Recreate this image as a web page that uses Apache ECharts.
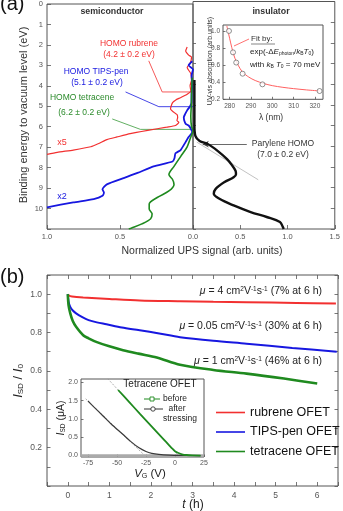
<!DOCTYPE html>
<html><head><meta charset="utf-8">
<script src="https://cdn.jsdelivr.net/npm/echarts@6/dist/echarts.min.js"></script>
<style>html,body{margin:0;padding:0;background:#fff}#c{width:343px;height:511px}</style>
</head><body><div id="c"></div>
<script>
// ---------- Panel (a): UPS spectra (binding energy in eV, normalized signal) ----------
const rubreneE = [2.1, 2.3, 2.5, 2.6, 2.9, 3.1, 3.4, 3.7, 4.0, 4.25, 4.41, 4.58, 4.7, 4.82, 5.0, 5.13, 5.3, 5.4, 5.55, 5.7, 5.78, 5.94, 6.02, 6.18, 6.34, 6.5, 6.63, 6.82, 6.98, 7.14, 7.25, 7.35];
const rubreneS = [0.04, 0.05, 0.03, 0.01, 0.02, 0.04, 0.015, 0.01, 0.02, 0.015, 0.04, 0.086, 0.12, 0.14, 0.15, 0.154, 0.13, 0.11, 0.105, 0.11, 0.097, 0.12, 0.18, 0.31, 0.43, 0.52, 0.59, 0.645, 0.70, 0.82, 0.93, 1.0];
const tipsE = [2.8, 3.0, 3.2, 3.5, 4.0, 4.4, 4.8, 5.0, 5.2, 5.4, 5.54, 5.7, 5.86, 5.94, 6.1, 6.26, 6.5, 6.74, 7.14, 7.3, 7.54, 7.7, 7.94, 8.26, 8.5, 8.82, 9.06, 9.22, 9.38, 9.54, 9.7, 9.94];
const tipsS = [0.005, 0.03, 0.0, 0.01, 0.005, 0.01, 0.01, 0.02, 0.04, 0.055, 0.063, 0.06, 0.05, 0.03, 0.015, 0.005, 0.03, 0.05, 0.085, 0.12, 0.127, 0.14, 0.27, 0.38, 0.47, 0.59, 0.62, 0.61, 0.62, 0.68, 0.82, 1.0];
const tetE = [3.6, 4.0, 4.5, 5.0, 5.5, 6.0, 6.18, 6.5, 6.98, 7.46, 7.94, 8.34, 8.58, 8.82, 9.14, 9.46, 9.78, 10.02, 10.26, 10.5, 10.75, 10.95, 11.0];
const tetS = [0.005, 0.008, 0.01, 0.012, 0.015, 0.01, 0.0, 0.015, 0.04, 0.085, 0.13, 0.165, 0.14, 0.13, 0.165, 0.245, 0.30, 0.30, 0.28, 0.29, 0.35, 0.42, 0.44];
const paryE = [3.8, 4.5, 5.0, 5.5, 6.0, 6.5, 6.74, 6.9, 7.22, 7.62, 7.9, 8.18, 8.35, 8.5, 8.74, 9.06, 9.3, 9.54, 9.86, 10.18, 10.42, 10.66, 10.9, 11.0];
const paryS = [0.015, 0.015, 0.015, 0.015, 0.015, 0.025, 0.07, 0.16, 0.26, 0.36, 0.41, 0.45, 0.455, 0.43, 0.33, 0.24, 0.22, 0.28, 0.43, 0.61, 0.78, 0.92, 0.95, 0.96];
// inset (a): UV-vis absorption
const uvLambda = [279.7, 281.6, 283.1, 286.1, 295.4, 322.2];
const uvAbs = [1.0, 0.75, 0.63, 0.50, 0.375, 0.297];
const fitLambda = [278.7, 279.5, 280.5, 281.5, 282.5, 284, 286, 289, 292, 296, 300, 305, 310, 316, 322.2];
const fitAbs = [1.06, 0.97, 0.86, 0.76, 0.68, 0.6, 0.52, 0.46, 0.42, 0.385, 0.36, 0.34, 0.325, 0.31, 0.298];
// ---------- Panel (b): I_SD/I_0 vs time ----------
const rubT = [0, 0.03, 0.1, 0.37, 1.0, 1.73, 2.7, 3.5, 4.3, 5.5, 6.45];
const rubV = [1.0, 0.992, 0.988, 0.983, 0.975, 0.967, 0.963, 0.96, 0.958, 0.954, 0.951];
const tipsT = [0, 0.02, 0.06, 0.12, 0.2, 0.35, 0.5, 0.7, 0.93, 1.3, 1.73, 2.2, 2.7, 3.5, 4.3, 5.4, 6.47];
const tipsV = [1.0, 0.96, 0.934, 0.915, 0.9, 0.88, 0.865, 0.853, 0.843, 0.826, 0.812, 0.795, 0.776, 0.757, 0.742, 0.72, 0.70];
const tetT = [0, 0.02, 0.06, 0.12, 0.2, 0.37, 0.5, 0.7, 1.0, 1.33, 1.7, 2.14, 2.7, 3.5, 4.3, 5.2, 6.0];
const tetV = [1.0, 0.94, 0.90, 0.86, 0.83, 0.786, 0.77, 0.75, 0.728, 0.708, 0.69, 0.67, 0.632, 0.605, 0.586, 0.56, 0.534];
// inset (b): transfer curves
const vgBefore = [-49, -40, -30, -20, -10, -5, -2, 0, 3, 6, 10, 15, 22];
const isdBefore = [1.79, 1.48, 1.13, 0.79, 0.45, 0.28, 0.18, 0.12, 0.07, 0.035, 0.015, 0.005, 0.0];
const vgAfter = [-75, -70, -62, -55, -45, -38, -31, -25, -20, -14, -5, 5, 22];
const isdAfter = [1.49, 1.33, 1.08, 0.86, 0.58, 0.38, 0.21, 0.11, 0.06, 0.03, 0.01, 0.003, 0.0];
const tanBefore = [[-58, 2.1], [3, 0]];
const tanAfter = [[-77, 1.55], [-26, 0]];
// tick label lists
const bTickX = [0, 1, 2, 3, 4, 5, 6];
const bTickY = [0.2, 0.4, 0.6, 0.8, 1.0];
const insetATicksX = [280, 290, 300, 310, 320];
const insetATicksY = [0.2, 0.4, 0.6, 0.8, 1.0];
const insetBTicksX = [-75, -50, -25, 0, 25];
const insetBTicksY = [0, 0.5, 1.0, 1.5, 2.0];

const zipXY = (xs, ys) => xs.map((x, i) => [x, ys[i]]);
const FF = "'Liberation Sans', Arial, sans-serif";
const RED = '#f23030', BLUE = '#1717e0', GREEN = '#1f8a1f';

// annotation leader lines in panel (a) data coordinates (signal, energy)
const leadRed = [[0.303, 2.78], [0.211, 4.30], [0.0, 4.30]];
const leadBlue = [[0.462, 4.30], [0.234, 5.02], [0.0, 5.02]];
const leadGreen = [[0.553, 5.62], [0.36, 6.13], [0.0, 6.13]];

const lbl = (size, extra) => Object.assign({fontSize: size, color: '#555', fontFamily: FF}, extra || {});
const tick = (len, extra) => Object.assign({inside: true, length: len, lineStyle: {color: '#555', width: 0.8}}, extra || {});
const noLine = {show: false, onZero: false};
const noSplit = {show: false};

function T(x, y, text, o) {
  o = o || {};
  return {type: 'text', x: x, y: y, rotation: o.rot || 0, z: 100, silent: true,
    style: {text: text, fill: o.fill || '#222', fontSize: o.size || 9, fontFamily: FF,
      fontWeight: o.bold ? 'bold' : 'normal', fontStyle: o.italic ? 'italic' : 'normal',
      align: o.align || 'center', verticalAlign: 'middle', rich: o.rich}};
}
const supRich = (base) => ({i: {fontStyle: 'italic', fontSize: base, fill: '#222'}, s: {fontSize: base * 0.62, verticalAlign: 'top', fill: '#222'}, n: {fontSize: base, fill: '#222'}});
const subRich = (base) => ({i: {fontStyle: 'italic', fontSize: base, fill: '#222'}, b: {fontSize: base * 0.62, verticalAlign: 'bottom', fill: '#222'}, n: {fontSize: base, fill: '#222'}});

const chart = echarts.init(document.getElementById('c'), null, {renderer: 'canvas'});
const gridStyle = {show: true, borderColor: '#555', borderWidth: 1, backgroundColor: 'transparent', containLabel: false};
const lineS = (name, data, color, w, xi, yi, extra) => Object.assign({
  name: name, type: 'line', data: data, xAxisIndex: xi, yAxisIndex: yi, symbol: 'none', silent: true,
  lineStyle: {color: color, width: w}, itemStyle: {color: color}, animation: false, z: 5
}, extra || {});
const isTick = (list, v) => list.some(t => Math.abs(t - v) < 1e-6);

chart.setOption({
  animation: false,
  textStyle: {fontFamily: FF},
  grid: [
    Object.assign({left: 47, top: 1.5, width: 146, height: 227.5}, gridStyle),
    Object.assign({left: 193, top: 1.5, width: 145, height: 227.5}, gridStyle),
    Object.assign({left: 223, top: 25, width: 100, height: 74.3}, gridStyle),
    Object.assign({left: 47, top: 275, width: 291, height: 211}, gridStyle),
    Object.assign({left: 81, top: 379, width: 123, height: 78}, gridStyle, {backgroundColor: '#fff'})
  ],
  xAxis: [
    {gridIndex: 0, type: 'value', min: 0, max: 1, inverse: true, interval: 0.5, axisLine: noLine, splitLine: noSplit,
      axisTick: tick(4), axisLabel: lbl(7.5, {margin: 4, formatter: v => v === 0 ? '' : v.toFixed(1)})},
    {gridIndex: 1, type: 'value', min: 0, max: 1.5, interval: 0.5, axisLine: noLine, splitLine: noSplit,
      axisTick: tick(4), axisLabel: lbl(7.5, {margin: 4, formatter: v => v.toFixed(1)})},
    {gridIndex: 2, type: 'value', min: 276.9, max: 323.8, axisLine: noLine, splitLine: noSplit,
      axisTick: tick(2.5, {customValues: insetATicksX}), axisLabel: lbl(6.5, {margin: 3, customValues: insetATicksX})},
    {gridIndex: 3, type: 'value', min: -0.5, max: 6.5, interval: 0.5, axisLine: noLine, splitLine: noSplit,
      axisTick: tick(4), axisLabel: lbl(8.5, {margin: 5, formatter: v => isTick(bTickX, v) ? String(v) : ''})},
    {gridIndex: 3, type: 'value', position: 'top', min: -0.5, max: 6.5, interval: 0.5, axisLine: noLine, splitLine: noSplit,
      axisTick: tick(4), axisLabel: {show: false}},
    {gridIndex: 4, type: 'value', min: -81, max: 25, axisLine: noLine, splitLine: noSplit,
      axisTick: tick(2.5, {customValues: insetBTicksX}), axisLabel: lbl(7, {margin: 3, customValues: insetBTicksX})}
  ],
  yAxis: [
    {gridIndex: 0, type: 'value', min: 0, max: 11, interval: 1, inverse: true, axisLine: noLine, splitLine: noSplit,
      axisTick: tick(4), axisLabel: lbl(7.5, {margin: 4, formatter: v => v <= 10 ? String(v) : ''})},
    {gridIndex: 1, type: 'value', min: 0, max: 11, interval: 1, inverse: true, position: 'left', axisLine: noLine, splitLine: noSplit,
      axisTick: tick(3), axisLabel: {show: false}},
    {gridIndex: 1, type: 'value', min: 0, max: 11, interval: 1, inverse: true, position: 'right', axisLine: noLine, splitLine: noSplit,
      axisTick: tick(4), axisLabel: {show: false}},
    {gridIndex: 2, type: 'value', min: 0.2, max: 1.07, axisLine: noLine, splitLine: noSplit,
      axisTick: tick(2.5, {customValues: insetATicksY}), axisLabel: lbl(6.5, {margin: 3, customValues: insetATicksY, formatter: v => v.toFixed(1)})},
    {gridIndex: 3, type: 'value', min: 0, max: 1.1, interval: 0.1, axisLine: noLine, splitLine: noSplit,
      axisTick: tick(3.5), axisLabel: lbl(8.5, {margin: 5, formatter: v => isTick(bTickY, v) ? v.toFixed(1) : ''})},
    {gridIndex: 3, type: 'value', position: 'right', min: 0, max: 1.1, interval: 0.1, axisLine: noLine, splitLine: noSplit,
      axisTick: tick(3.5), axisLabel: {show: false}},
    {gridIndex: 4, type: 'value', min: -0.04, max: 2.09, axisLine: noLine, splitLine: noSplit,
      axisTick: tick(2.5, {customValues: insetBTicksY}), axisLabel: lbl(7, {margin: 3, customValues: insetBTicksY, formatter: v => v.toFixed(1)})}
  ],
  legend: {
    orient: 'vertical', left: 211, top: 401, itemWidth: 29, itemHeight: 1.6, itemGap: 6.5, icon: 'rect',
    textStyle: {fontSize: 12.5, color: '#111', fontFamily: FF},
    data: ['rubrene OFET', 'TIPS-pen OFET', 'tetracene OFET'], selectedMode: false
  },
  series: [
    // panel (a) left: semiconductors
    lineS('lr', leadRed, RED, 0.8, 0, 0, {z: 3}),
    lineS('lb', leadBlue, BLUE, 0.8, 0, 0, {z: 3}),
    lineS('lg', leadGreen, '#3a9a3a', 0.8, 0, 0, {z: 3}),
    lineS('rubrene UPS', zipXY(rubreneS, rubreneE), RED, 1.2, 0, 0, {smooth: 0.2}),
    lineS('TIPS UPS', zipXY(tipsS, tipsE), BLUE, 1.8, 0, 0, {smooth: 0.2}),
    lineS('tetracene UPS', zipXY(tetS, tetE), GREEN, 1.6, 0, 0, {smooth: 0.3}),
    // panel (a) right: parylene
    lineS('tangent', [[0.04, 6.8], [0.69, 8.62]], '#bbbbbb', 0.9, 1, 1, {z: 3}),
    lineS('parylene UPS', zipXY(paryS, paryE), '#111', 2.4, 1, 1, {smooth: 0.35,
      markLine: {silent: true, symbol: ['arrow', 'none'], symbolSize: [5, 6], label: {show: false},
        lineStyle: {color: '#444', width: 0.8, type: 'solid'},
        data: [[{coord: [0.103, 6.9]}, {coord: [0.569, 6.9]}]]}}),
    // inset (a)
    lineS('fit', zipXY(fitLambda, fitAbs), '#ff6060', 1, 2, 3, {smooth: 0.3}),
    {type: 'scatter', xAxisIndex: 2, yAxisIndex: 3, data: zipXY(uvLambda, uvAbs), symbol: 'circle', symbolSize: 5,
      itemStyle: {color: '#fff', borderColor: '#666', borderWidth: 0.9}, silent: true, z: 6},
    // panel (b)
    lineS('rubrene OFET', zipXY(rubT, rubV), RED, 2, 3, 4, {smooth: 0.3}),
    lineS('TIPS-pen OFET', zipXY(tipsT, tipsV), BLUE, 2, 3, 4, {smooth: 0.3}),
    lineS('tetracene OFET', zipXY(tetT, tetV), GREEN, 2.6, 3, 4, {smooth: 0.3}),
    // inset (b)
    lineS('tb', tanBefore, '#999', 0.8, 5, 6, {lineStyle: {color: '#999', width: 0.8, type: [2, 1.5]}, z: 3}),
    lineS('ta', tanAfter, '#999', 0.8, 5, 6, {lineStyle: {color: '#999', width: 0.8, type: [2, 1.5]}, z: 3}),
    lineS('after', zipXY(vgAfter, isdAfter), '#3a3a3a', 1.2, 5, 6, {smooth: 0.3,
      markLine: {silent: true, symbol: 'none', label: {show: false}, lineStyle: {color: '#aaa', width: 2.5, type: 'solid'}, data: [{yAxis: 0}]}}),
    lineS('before', zipXY(vgBefore, isdBefore), '#1f8a1f', 1.8, 5, 6, {smooth: 0.3})
  ],
  graphic: [
    T(0, 4, '(a)', {size: 20, align: 'left', fill: '#111'}),
    T(0, 277, '(b)', {size: 20, align: 'left', fill: '#111'}),
    // panel a titles
    T(24, 115, 'Binding energy to vacuum level (eV)', {size: 11, rot: Math.PI / 2, fill: '#333'}),
    T(202, 251, 'Normalized UPS signal (arb. units)', {size: 10.5, fill: '#333'}),
    T(112, 12, 'semiconductor', {size: 8.8, bold: true, fill: '#333'}),
    T(271, 12, 'insulator', {size: 8.8, bold: true, fill: '#333'}),
    T(129, 44, 'HOMO rubrene', {size: 8.5, fill: RED}),
    T(129, 55, '(4.2 ± 0.2 eV)', {size: 8.5, fill: RED}),
    T(96, 72, 'HOMO TIPS-pen', {size: 8.5, fill: BLUE}),
    T(97, 83, '(5.1 ± 0.2 eV)', {size: 8.5, fill: BLUE}),
    T(82, 98, 'HOMO tetracene', {size: 8.5, fill: '#2a8a2a'}),
    T(84, 113, '(6.2 ± 0.2 eV)', {size: 8.5, fill: '#2a8a2a'}),
    T(62, 143, 'x5', {size: 9, fill: RED}),
    T(62, 197, 'x2', {size: 9, fill: BLUE}),
    T(283, 144, 'Parylene HOMO', {size: 8.5, fill: '#333'}),
    T(283, 155, '(7.0 ± 0.2 eV)', {size: 8.5, fill: '#333'}),
    // inset a
    T(210, 61, 'UV-vis absorption (arb.units)', {size: 7, rot: Math.PI / 2, fill: '#333'}),
    T(271, 118, 'λ (nm)', {size: 8.5, fill: '#333'}),
    T(251, 39, 'Fit by:', {size: 8, align: 'left', fill: '#333'}),
    {type: 'line', z: 100, silent: true, shape: {x1: 251, y1: 44, x2: 275, y2: 44}, style: {stroke: '#333', lineWidth: 0.6}},
    {type: 'line', z: 100, silent: true, shape: {x1: 234, y1: 46, x2: 249, y2: 39}, style: {stroke: '#ff6060', lineWidth: 0.9}},
    T(250, 52, '{n|exp(-Δ}{i|E}{b|photon}{n|/}{i|k}{b|B}{i|T}{b|0}{n|)}', {size: 8, align: 'left', rich: subRich(8)}),
    T(250, 65, '{n|with }{i|k}{b|B}{i| T}{b|0}{n| = 70 meV}', {size: 8, align: 'left', rich: subRich(8)}),
    // panel b titles
    T(18, 381, '{i|I}{b|SD}{n| / }{i|I}{b|0}', {size: 13, rot: Math.PI / 2, rich: subRich(13)}),
    T(193, 505, '{i|t}{n| (h)}', {size: 12, rich: subRich(12)}),
    T(322, 291, '{i|μ}{n| = 4 cm}{s|2}{n|V}{s|-1}{n|s}{s|-1}{n| (7% at 6 h)}', {size: 10.5, align: 'right', rich: supRich(10.5)}),
    T(322, 326, '{i|μ}{n| = 0.05 cm}{s|2}{n|V}{s|-1}{n|s}{s|-1}{n| (30% at 6 h)}', {size: 10.5, align: 'right', rich: supRich(10.5)}),
    T(322, 361, '{i|μ}{n| = 1 cm}{s|2}{n|V}{s|-1}{n|s}{s|-1}{n| (46% at 6 h)}', {size: 10.5, align: 'right', rich: supRich(10.5)}),
    // inset b
    T(61, 418, '{i|I}{b|SD}{n| (μA)}', {size: 10.5, rot: Math.PI / 2, rich: subRich(10.5)}),
    T(150, 474, '{i|V}{b|G}{n| (V)}', {size: 11.5, rich: subRich(11.5)}),
    T(160, 384, 'Tetracene OFET', {size: 10, fill: '#222'}),
    {type: 'line', z: 100, silent: true, shape: {x1: 144, y1: 399, x2: 160, y2: 399}, style: {stroke: '#1f8a1f', lineWidth: 1}},
    {type: 'rect', z: 101, silent: true, shape: {x: 150, y: 397, width: 4, height: 4}, style: {stroke: '#1f8a1f', fill: '#fff', lineWidth: 0.9}},
    T(163, 399, 'before', {size: 8.5, align: 'left'}),
    {type: 'line', z: 100, silent: true, shape: {x1: 144, y1: 409, x2: 163, y2: 409}, style: {stroke: '#333', lineWidth: 1}},
    {type: 'circle', z: 101, silent: true, shape: {cx: 153, cy: 409, r: 2.2}, style: {stroke: '#333', fill: '#fff', lineWidth: 0.9}},
    T(177, 409, 'after', {size: 8.5}),
    T(180, 419, 'stressing', {size: 8.5})
  ]
});
</script></body></html>
